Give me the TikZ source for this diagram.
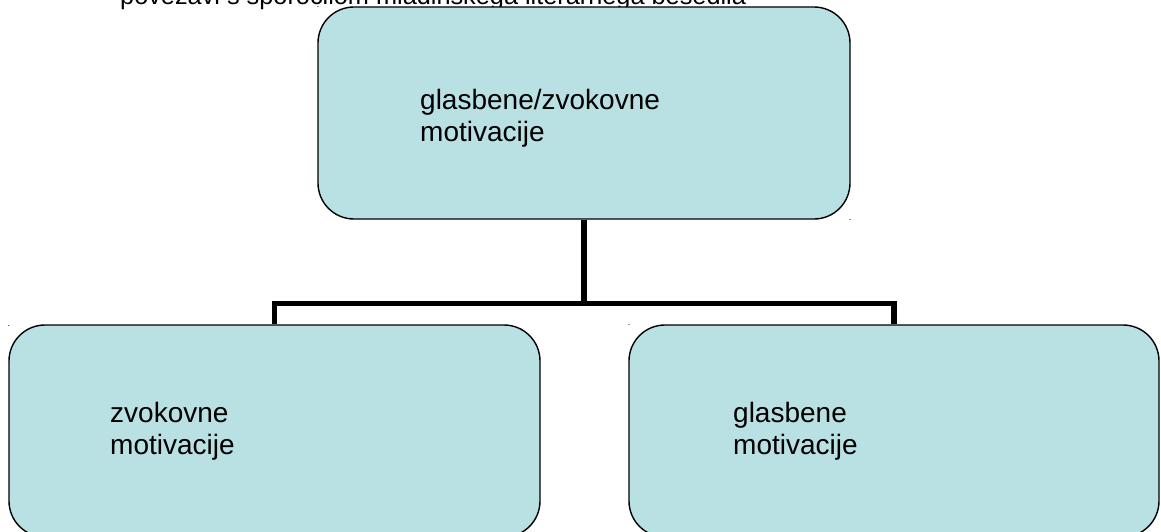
\documentclass[tikz,border=0pt]{standalone}
\usepackage{fontspec}
\setmainfont{Liberation Sans}
\definecolor{boxfill}{RGB}{185,224,227}
\begin{document}
\begin{tikzpicture}[x=1pt,y=-1pt,
  box/.style={draw=black,line width=1.4pt,fill=boxfill,rounded corners=36pt,inner sep=0pt},
  conn/.style={draw=black,line width=5.5pt},
  lbl/.style={anchor=base west,inner sep=0pt,align=left,font=\fontsize{28}{32}\selectfont},
  dotmark/.style={anchor=base,inner sep=0pt,font=\fontsize{9}{10}\selectfont}]
\useasboundingbox (0,0) rectangle (1161,532);
\clip (0,0) rectangle (1161,532);
\node[lbl,font=\fontsize{25.3}{29}\selectfont] (title) at (120,5) {povezavi s sporočilom mladinskega literarnega besedila};
\node[box,minimum width=532pt,minimum height=212pt] (top) at (584,113) {};
\node[box,minimum width=531pt,minimum height=212pt] (left) at (274.5,431) {};
\node[box,minimum width=530pt,minimum height=212pt] (right) at (894,431) {};
\coordinate (hub) at (584,303.5);
\draw[conn] (top.south) -- (hub);
\draw[conn] (left.north) -- (left.north |- hub) -- (right.north |- hub) -- (right.north);
\node[lbl] (ttop) at (420,141) {glasbene/zvokovne\\motivacije};
\node[lbl] (tleft) at (110,454) {zvokovne\\motivacije};
\node[lbl] (tright) at (733,454) {glasbene\\motivacije};
\node[dotmark] (d1) at (318,8) {.};
\node[dotmark] (d2) at (850,220) {.};
\node[dotmark] (d3) at (9,326) {.};
\node[dotmark] (d4) at (629,325) {.};
\end{tikzpicture}
\end{document}
